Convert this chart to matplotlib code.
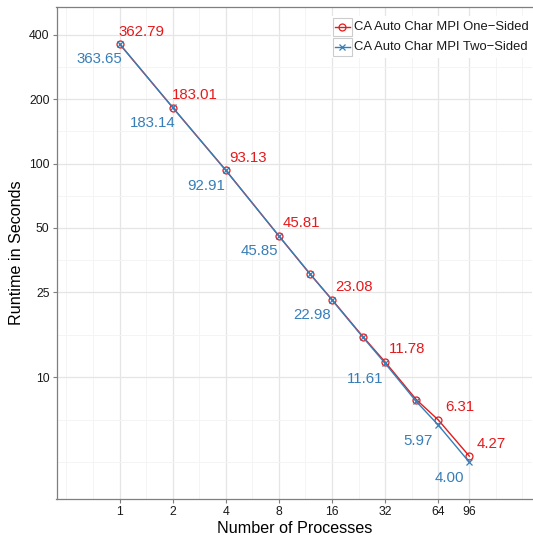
import matplotlib
matplotlib.use("Agg")
import matplotlib.pyplot as plt
from matplotlib.lines import Line2D
from matplotlib.patches import Rectangle
from matplotlib.transforms import IdentityTransform

plt.rcParams["font.family"] = ["Liberation Sans", "DejaVu Sans"]

# data
procs = [1, 2, 4, 8, 12, 16, 24, 32, 48, 64, 96]
one_sided = [362.79, 183.01, 93.13, 45.81, 30.4, 23.08, 15.45, 11.78, 7.86, 6.31, 4.27]
two_sided = [363.65, 183.14, 92.91, 45.85, 30.5, 22.98, 15.35, 11.61, 7.70, 5.97, 4.00]
x_ticks = [1, 2, 4, 8, 16, 32, 64, 96]
y_ticks = [10, 25, 50, 100, 200, 400]
names = ["CA Auto Char MPI One\u2212Sided", "CA Auto Char MPI Two\u2212Sided"]

RED = "#E41A1C"
BLUE = "#377EB8"
W, H = 533, 535

fig = plt.figure(figsize=(W / 100, H / 100), dpi=100)
ax = fig.add_axes([56.5 / W, (H - 499) / H, (532.4 - 56.5) / W, (499 - 7.3) / H])

ax.set_xscale("log", base=2)
ax.set_yscale("log")
ax.set_xlim(2 ** -1.188, 2 ** 7.773)
ax.set_ylim(2.69, 539)

ax.set_xticks(x_ticks)
ax.set_xticklabels([str(t) for t in x_ticks])
ax.set_yticks(y_ticks)
ax.set_yticklabels([str(t) for t in y_ticks])

# minor grid at log midpoints
x_minor = [0.5, 2 ** -0.5] + [2 ** (k + 0.5) for k in range(0, 6)] + [96 * 2 ** 0.5, 192]
y_minor = [(400 * 200) ** 0.5, (200 * 100) ** 0.5, (100 * 50) ** 0.5, (50 * 25) ** 0.5,
           (25 * 10) ** 0.5, 10 / 2.5 ** 0.5, 4.0]
ax.set_xticks(x_minor, minor=True)
ax.set_yticks(y_minor, minor=True)
ax.set_xticklabels([], minor=True)
ax.set_yticklabels([], minor=True)

ax.grid(True, which="major", color="#E5E5E5", linewidth=0.9, zorder=0)
ax.grid(True, which="minor", color="#F4F4F4", linewidth=0.7, zorder=0)
ax.set_axisbelow(True)

ax.tick_params(which="major", length=3, width=0.8, color="#7F7F7F",
               labelsize=8.8, labelcolor="#1A1A1A", pad=2)
ax.tick_params(which="minor", length=0)
for side in ["left", "bottom", "top"]:
    ax.spines[side].set_color("#7F7F7F")
    ax.spines[side].set_linewidth(0.9)
ax.spines["right"].set_visible(False)

ax.plot(procs, one_sided, color=RED, linewidth=1.0, marker="o", markersize=5,
        markerfacecolor="none", markeredgewidth=0.9, zorder=3)
ax.plot(procs, two_sided, color=BLUE, linewidth=1.0, marker="x", markersize=5,
        markeredgewidth=0.9, zorder=4)

for x, a, b in zip(procs, one_sided, two_sided):
    if x not in x_ticks:
        continue
    ax.annotate(f"{a:.2f}", (x, a), xytext=(22, 12.5), textcoords="offset pixels",
                ha="center", va="center", color=RED, fontsize=10.8)
    ax.annotate(f"{b:.2f}", (x, b), xytext=(-20, -15.5), textcoords="offset pixels",
                ha="center", va="center", color=BLUE, fontsize=10.8)

ax.set_xlabel("Number of Processes", fontsize=11.6, labelpad=2)
ax.set_ylabel("Runtime in Seconds", fontsize=11.6, labelpad=3.5)

# legend drawn by hand in pixel coordinates
tr = IdentityTransform()
leg_bg = Rectangle((331, H - 58), 210, 42, transform=tr, facecolor="white",
                   edgecolor="none", zorder=5)
fig.add_artist(leg_bg)
for i, (name, col, mk) in enumerate(zip(names, [RED, BLUE], ["o", "x"])):
    yc = H - (27 + i * 19.7)
    fig.add_artist(Rectangle((332.5, yc - 9), 19, 18, transform=tr, facecolor="white",
                             edgecolor="#CCCCCC", linewidth=0.8, zorder=6))
    fig.add_artist(Line2D([334.5, 349.5], [yc, yc], transform=tr, color=col,
                          linewidth=1.0, zorder=7))
    fig.add_artist(Line2D([342], [yc], transform=tr, color=col, marker=mk,
                          markersize=5, markerfacecolor="none", markeredgewidth=0.9,
                          linestyle="none", zorder=7))
    fig.text(354 / W, yc / H, name, fontsize=9.4, va="center", ha="left",
             color="#1A1A1A", zorder=7)

fig.savefig("out.png", dpi=100)
